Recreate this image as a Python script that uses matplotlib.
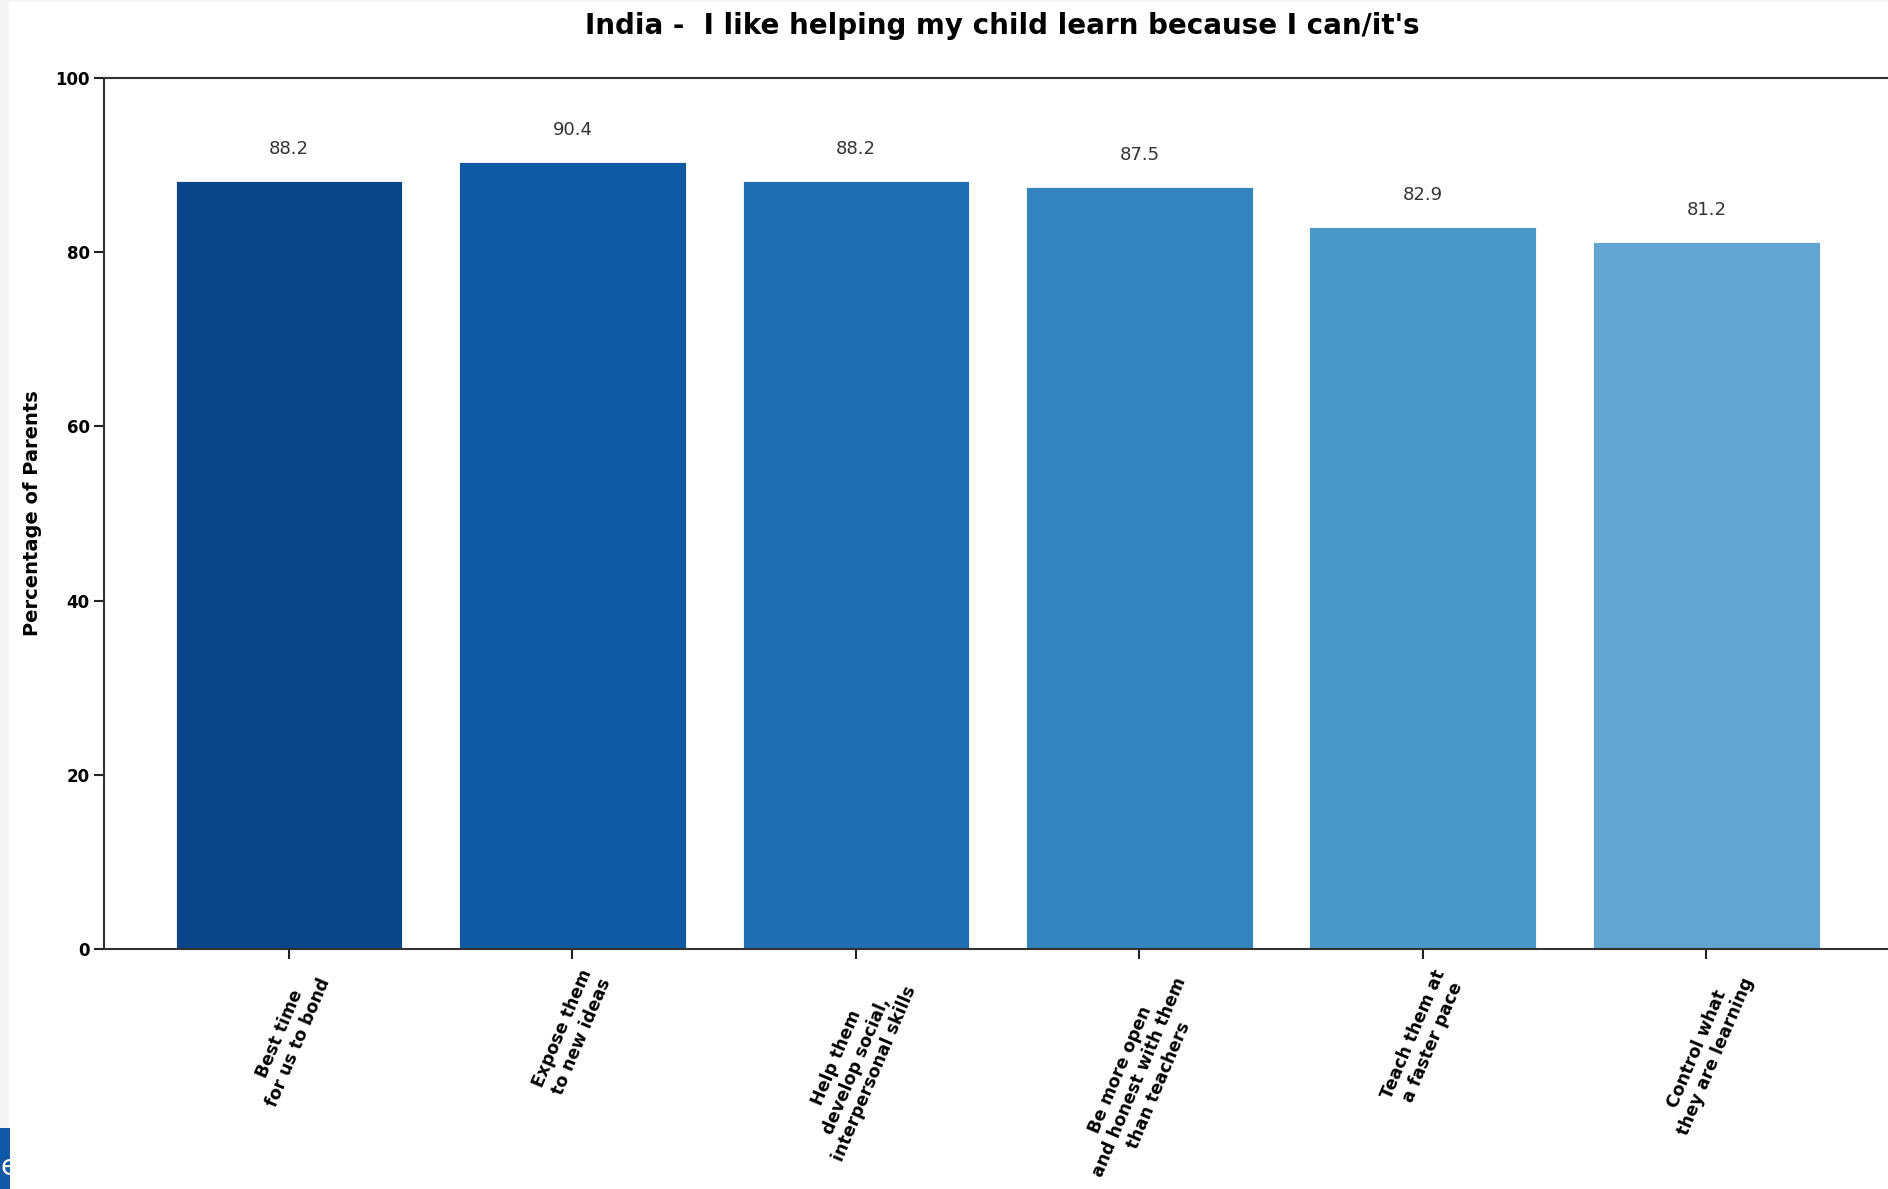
import matplotlib.pyplot as plt
from matplotlib.patches import Rectangle

# === DATA ===
reasons = [
    "Best time\nfor us to bond",
    "Expose them\nto new ideas",
    "Help them\ndevelop social,\ninterpersonal skills",
    "Be more open\nand honest with them\nthan teachers",
    "Teach them at\na faster pace",
    "Control what\nthey are learning",
]
percent = [88.2, 90.4, 88.2, 87.5, 82.9, 81.2]
bar_colors = ["#0b4589", "#1059a3", "#206fb3", "#3384bf", "#4a97c9", "#61a6d1"]

TITLE = "India -  I like helping my child learn because I can/it's"
Y_LABEL = "Percentage of Parents"

W, H = 1888, 1189
fig = plt.figure(figsize=(W / 100, H / 100), dpi=100)
fig.patch.set_facecolor("white")

# axes runs past the right edge, like the cropped screenshot
left, top, bottom, right = 103.5, 78, 949, 1902
ax = fig.add_axes([left / W, 1 - bottom / H, (right - left) / W, (bottom - top) / H])

x = list(range(len(reasons)))
bars = ax.bar(x, percent, width=0.8, color=bar_colors, edgecolor="white", linewidth=0.6)

for bar, val in zip(bars, percent):
    ax.text(
        bar.get_x() + bar.get_width() / 2.0,
        bar.get_height() + 2.6,
        f"{val:.1f}",
        ha="center",
        va="bottom",
        fontsize=13,
        color="#333333",
    )

ax.set_xlim(-0.654, 5.69)
ax.set_ylim(0, 100)
ax.set_yticks([0, 20, 40, 60, 80, 100])
ax.set_xticks(x)
ax.set_xticklabels(reasons, rotation=67, ha="center", fontsize=12.5, fontweight="bold")
for lbl in ax.get_yticklabels():
    lbl.set_fontweight("bold")
    lbl.set_fontsize(12)

ax.tick_params(axis="both", length=7, width=1.5, color="#222222")
ax.tick_params(axis="x", pad=6)
ax.tick_params(axis="y", pad=3)
for sp in ax.spines.values():
    sp.set_linewidth(1.5)
    sp.set_color("#333333")

ax.set_ylabel(Y_LABEL, fontsize=14, fontweight="bold")
ax.yaxis.set_label_coords(-0.034, 0.5)
ax.set_title(TITLE, fontsize=20, fontweight="heavy", pad=32)

# screenshot chrome: grey strip on the left and a blue tab at the bottom
fig.patches.append(Rectangle((0, 0), 9 / W, 1, transform=fig.transFigure,
                             facecolor="#f5f5f5", edgecolor="none", zorder=0))
fig.patches.append(Rectangle((0, 1 - 2 / H), 1, 2 / H, transform=fig.transFigure,
                             facecolor="#f5f5f5", edgecolor="none", zorder=0))
fig.patches.append(Rectangle((0, 0), 10 / W, 61 / H, transform=fig.transFigure,
                             facecolor="#1158a7", edgecolor="none", zorder=5))
fig.text(1 / W, 22 / H, "e", color="white", fontsize=20, ha="left", va="center", zorder=6)

fig.savefig("out.png", dpi=100, facecolor=fig.get_facecolor())
